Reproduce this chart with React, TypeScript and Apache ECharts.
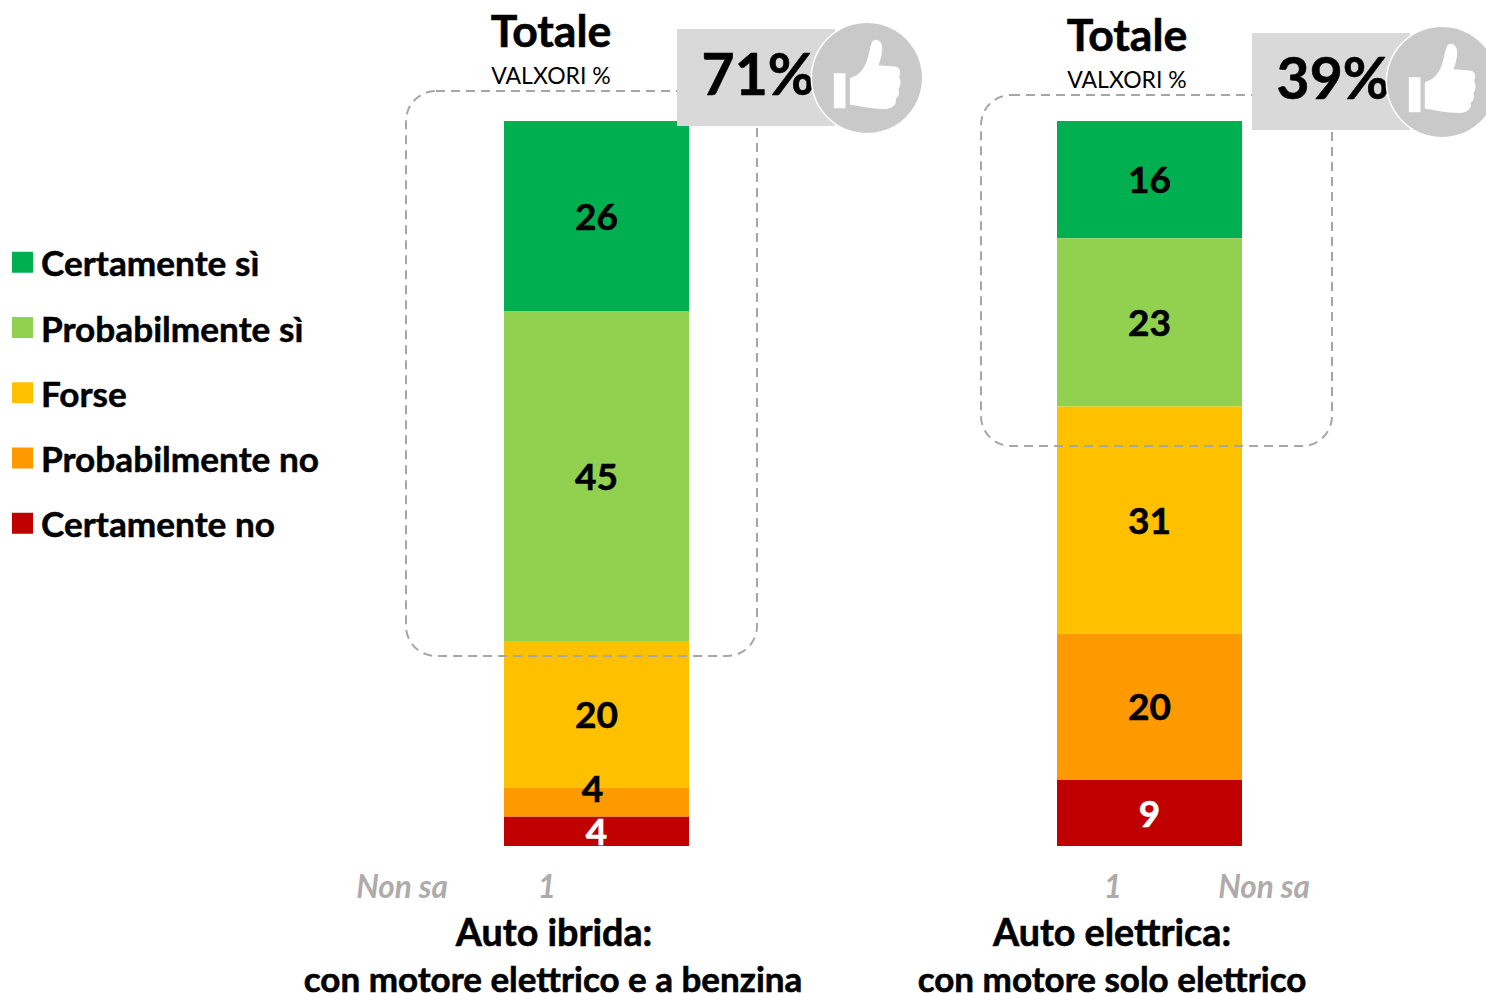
import React, { useEffect, useRef } from "react";
import * as echarts from "echarts";

const answers = ["Certamente sì", "Probabilmente sì", "Forse", "Probabilmente no", "Certamente no"];
const colors = ["#00B050", "#92D050", "#FFC000", "#FF9900", "#C00000"];
const hybridValues = [26, 45, 20, 4, 4];
const electricValues = [16, 23, 31, 20, 9];
const categories = ["Auto ibrida", "Auto elettrica"];
const topShares = ["71%", "39%"];
const noAnswer = ["1", "1"];
const captionsA = ["Auto ibrida:", "con motore elettrico e a benzina"];
const captionsB = ["Auto elettrica:", "con motore solo elettrico"];

const FONT = "Lato, Carlito, Calibri, sans-serif";

echarts.graphic.registerShape(
  "thumb",
  echarts.graphic.extendPath(
    "M492 190 L527 190 L527 295 L492 295 Z M540 205 C565 195 580 185 592 150 C600 125 600 110 606 98 C612 84 630 88 636 104 C640 125 632 150 626 166 L675 170 C692 172 695 188 688 200 C694 212 694 228 686 238 C690 250 686 262 678 266 C682 282 670 296 648 297 C610 298 575 290 540 284 Z",
    {}
  )
);

function makeSeries(values: number[], index: number) {
  return values.map((v, i) => ({
    name: answers[i],
    type: "bar",
    stack: "s" + index,
    xAxisIndex: index,
    yAxisIndex: index,
    barWidth: "100%",
    data: [v],
    itemStyle: { color: colors[i] },
    label: {
      show: true,
      position: "inside",
      fontFamily: FONT,
      fontWeight: "bold",
      fontSize: 37,
      color: i === 4 ? "#ffffff" : "#000000",
      textBorderColor: i === 4 ? "#ffffff" : "#000000",
      textBorderWidth: 0.6,
      offset: index === 0 && i === 3 ? [-4, -15] : [0, -1],
    },
  }));
}

function text(x: number, y: number, t: string, size: number, extra: any = {}) {
  const { z, ...style } = extra;
  return {
    type: "text",
    x,
    y,
    z: z ?? 20,
    style: {
      text: t,
      fontFamily: FONT,
      fontSize: size,
      fontWeight: "bold",
      fill: "#000000",
      align: "center",
      verticalAlign: "middle",
      ...style,
    },
  };
}

const heavy = { stroke: "#000000", lineWidth: 0.6 };

function badge(dx: number, dy: number, share: string) {
  const cx = 867 + dx;
  const cy = 78 + dy;
  return [
    { type: "rect", z: 12, shape: { x: 677 + dx, y: 29 + dy, width: 158, height: 97 }, style: { fill: "#D9D9D9" } },
    text(758 + dx, 73 + dy, share, 57, { z: 13, ...heavy }),
    { type: "circle", z: 15, shape: { cx, cy, r: 56.5 }, style: { fill: "#ffffff" } },
    { type: "circle", z: 16, shape: { cx, cy, r: 55 }, style: { fill: "#C9C9C9" } },
    { type: "thumb", z: 17, x: 670 + dx, y: 10 + dy, scaleX: 1 / 3, scaleY: 1 / 3, style: { fill: "#ffffff" } },
  ];
}

function dashed(x: number, y: number, width: number, height: number) {
  return {
    type: "rect",
    z: 10,
    shape: { x, y, width, height, r: 30 },
    style: { fill: "none", stroke: "#A6A6A6", lineWidth: 2, lineDash: [9, 6] },
  };
}

export default function App() {
  const ref = useRef<HTMLDivElement>(null);
  useEffect(() => {
    const chart = echarts.init(ref.current!, undefined, { renderer: "svg" });
    chart.setOption({
      animation: false,
      backgroundColor: "#ffffff",
      legend: {
        show: true,
        orient: "vertical",
        left: 12,
        top: 244.5,
        padding: 0,
        itemWidth: 21,
        itemHeight: 21,
        itemGap: 29.75,
        icon: "rect",
        data: answers,
        selectedMode: false,
        textStyle: {
          fontFamily: FONT,
          fontWeight: "bold",
          fontSize: 35.2,
          lineHeight: 21,
          color: "#000000",
          padding: [0, 0, 9, 3],
          textBorderColor: "#000000",
          textBorderWidth: 0.5,
        },
      },
      grid: [
        { left: 504, top: 121, width: 185, height: 725 },
        { left: 1057, top: 121, width: 185, height: 725 },
      ],
      xAxis: [
        { type: "category", gridIndex: 0, data: [categories[0]], show: false },
        { type: "category", gridIndex: 1, data: [categories[1]], show: false },
      ],
      yAxis: [
        { type: "value", gridIndex: 0, min: 0, max: 99, inverse: true, show: false },
        { type: "value", gridIndex: 1, min: 0, max: 99, inverse: true, show: false },
      ],
      series: [...makeSeries(hybridValues, 0), ...makeSeries(electricValues, 1)],
      graphic: [
        dashed(406, 91, 351, 565),
        dashed(981, 95, 351, 351),
        ...badge(0, 0, topShares[0]),
        ...badge(575, 4, topShares[1]),
        text(551, 29, "Totale", 44.5, heavy),
        text(1127, 33, "Totale", 44.5, heavy),
        text(551, 75, "VALXORI %", 23, { fontWeight: "normal" }),
        text(1127, 79, "VALXORI %", 23, { fontWeight: "normal" }),
        text(402, 886, "Non sa", 31.5, { fill: "#AFABAB", fontStyle: "italic" }),
        text(547, 886, noAnswer[0], 31.5, { fill: "#AFABAB", fontStyle: "italic" }),
        text(1113, 886, noAnswer[1], 31.5, { fill: "#AFABAB", fontStyle: "italic" }),
        text(1264, 886, "Non sa", 31.5, { fill: "#AFABAB", fontStyle: "italic" }),
        text(554, 931, captionsA[0], 37.7, heavy),
        text(553, 978, captionsA[1], 35, { lineHeight: 30, ...heavy }),
        text(1112, 931, captionsB[0], 37.7, heavy),
        text(1112, 978, captionsB[1], 35, { lineHeight: 30, ...heavy }),
      ],
    });
    return () => chart.dispose();
  }, []);
  return (
    <div
      ref={ref}
      style={{ position: "fixed", left: 0, top: 0, width: 1486, height: 993, overflow: "hidden" }}
    />
  );
}
